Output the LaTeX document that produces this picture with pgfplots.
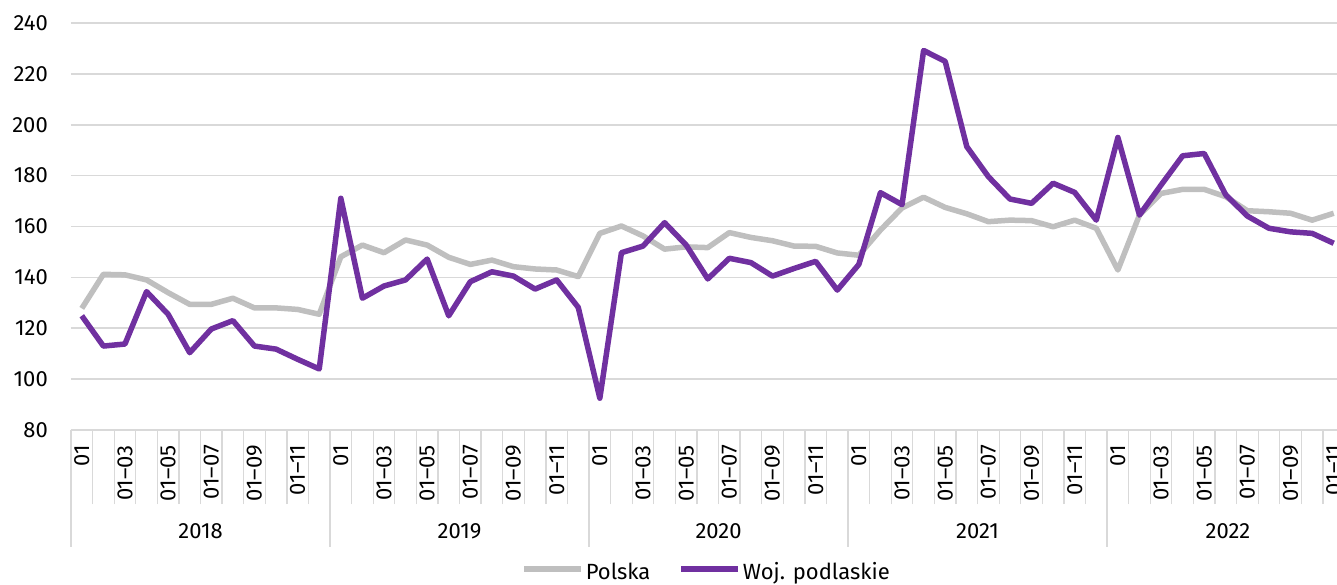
\documentclass[border=0pt]{standalone}
\usepackage{fontspec}
\setmainfont{Fira Sans}
\usepackage{pgfplots}
\usepackage{pgfplotstable}
\pgfplotsset{compat=1.18}
\definecolor{gridgray}{HTML}{D9D9D9}
\definecolor{polgray}{HTML}{BFBFBF}
\definecolor{purp}{HTML}{7030A0}
\newcommand\fs{\fontsize{22bp}{25bp}\selectfont}

\pgfplotstableread{
i pol pod
0 127.8 124.9
1 141.2 113.0
2 141.0 113.8
3 139.0 134.4
4 134.0 125.5
5 129.4 110.4
6 129.4 119.7
7 131.8 123.0
8 128.0 113.0
9 128.0 111.8
10 127.4 107.8
11 125.5 104.0
12 148.1 171.1
13 152.7 131.8
14 149.7 136.6
15 154.7 139.0
16 152.7 147.2
17 147.9 124.9
18 145.1 138.3
19 146.8 142.2
20 144.2 140.5
21 143.3 135.4
22 142.9 139.0
23 140.3 128.2
24 157.3 92.5
25 160.2 149.7
26 156.3 152.3
27 151.1 161.5
28 152.0 152.7
29 151.7 139.4
30 157.6 147.5
31 155.7 145.8
32 154.4 140.5
33 152.3 143.5
34 152.2 146.3
35 149.6 135.0
36 148.7 145.1
37 158.6 173.3
38 167.3 168.6
39 171.5 229.2
40 167.5 224.9
41 165.0 191.4
42 161.9 179.6
43 162.5 170.8
44 162.3 169.1
45 159.9 177.0
46 162.5 173.4
47 159.3 162.5
48 142.9 195.0
49 164.5 164.5
50 173.0 176.3
51 174.6 187.8
52 174.6 188.7
53 171.7 172.4
54 166.2 164.1
55 165.8 159.3
56 165.2 157.9
57 162.5 157.3
58 165.2 153.4
}\datatable

\begin{document}
\begin{tikzpicture}
\useasboundingbox (-71bp,-155bp) rectangle (1266bp,430bp);
\begin{axis}[
  scale only axis, width=1266bp, height=407bp,
  xmin=-0.5, xmax=58.15, ymin=80, ymax=240,
  ytick={80,100,...,240},
  xtick={0,2,...,58},
  xticklabels={01,01–03,01–05,01–07,01–09,01–11,
               01,01–03,01–05,01–07,01–09,01–11,
               01,01–03,01–05,01–07,01–09,01–11,
               01,01–03,01–05,01–07,01–09,01–11,
               01,01–03,01–05,01–07,01–09,01–11},
  minor xtick={-0.5,0.5,...,58.5},
  axis line style={draw=none},
  ymajorgrids, grid style={draw=gridgray, line width=1.6bp},
  major tick length=0pt, minor tick length=74bp,
  tick align=outside, xtick pos=bottom, ytick pos=left,
  minor tick style={draw=gridgray, line width=1.3bp},
  ticklabel style={font=\fs},
  xticklabel style={rotate=90, anchor=east, inner sep=0pt},
  xticklabel shift=15bp,
  yticklabel style={anchor=east, inner sep=0pt},
  yticklabel shift=23bp,
  /pgf/number format/assume math mode=true,
  clip mode=individual,
  legend columns=2,
  legend style={at={(0.502,-0.349)}, anchor=center, draw=none, fill=none,
    font=\fs, inner sep=0pt, column sep=0pt,
    nodes={inner xsep=2bp},
    /tikz/every even column/.append style={column sep=26bp}},
  legend image code/.code={\draw[#1, line width=5.5bp] (0bp,0.33em) -- (57bp,0.33em);},
]
\addplot[polgray, line width=5.5bp, line join=round] table[x=i, y=pol] {\datatable};
\addlegendentry{Polska}
\addplot[purp, line width=5.5bp, line join=round] table[x=i, y=pod] {\datatable};
\addlegendentry{Woj. podlaskie}

\pgfplotsinvokeforeach{-0.5,11.5,23.5,35.5,47.5}{
  \draw[gridgray, line width=1.3bp] (axis cs:#1,80) -- ([yshift=-117bp]axis cs:#1,80);
}
\node[font=\fs] at ([yshift=-101bp]axis cs:5.5,80) {2018};
\node[font=\fs] at ([yshift=-101bp]axis cs:17.5,80) {2019};
\node[font=\fs] at ([yshift=-101bp]axis cs:29.5,80) {2020};
\node[font=\fs] at ([yshift=-101bp]axis cs:41.5,80) {2021};
\node[font=\fs] at ([yshift=-101bp]axis cs:53.1,80) {2022};
\end{axis}
\end{tikzpicture}
\end{document}
